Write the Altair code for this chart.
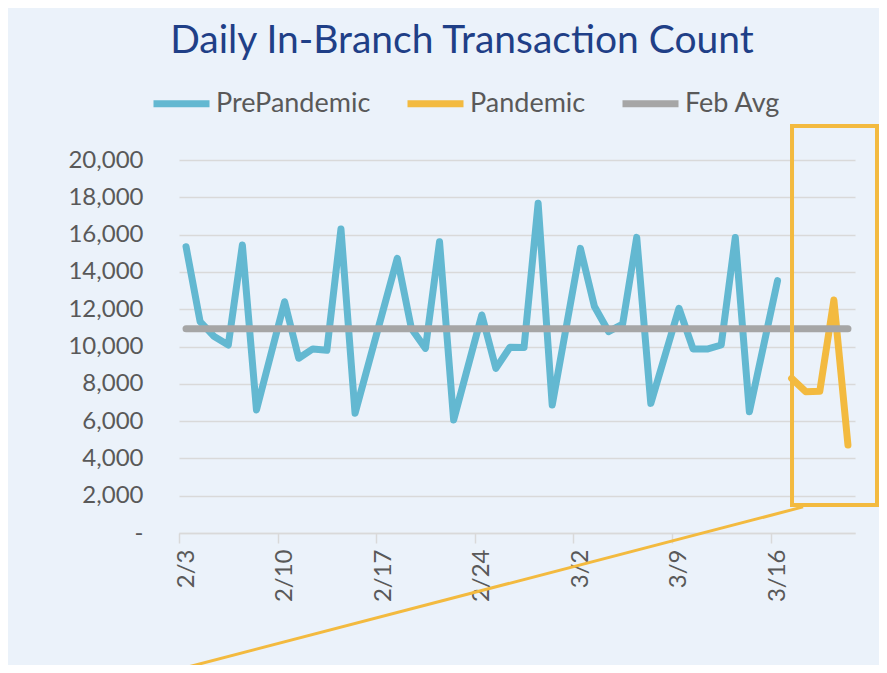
import altair as alt
import pandas as pd

# ---------------- data ----------------
pre_dates = [
    "2020-02-03", "2020-02-04", "2020-02-05", "2020-02-06", "2020-02-07", "2020-02-08",
    "2020-02-10", "2020-02-11", "2020-02-12", "2020-02-13", "2020-02-14", "2020-02-15",
    "2020-02-18", "2020-02-19", "2020-02-20", "2020-02-21", "2020-02-22",
    "2020-02-24", "2020-02-25", "2020-02-26", "2020-02-27", "2020-02-28", "2020-02-29",
    "2020-03-02", "2020-03-03", "2020-03-04", "2020-03-05", "2020-03-06", "2020-03-07",
    "2020-03-09", "2020-03-10", "2020-03-11", "2020-03-12", "2020-03-13", "2020-03-14",
    "2020-03-16",
]
pre_values = [
    15350, 11330, 10530, 10080, 15440, 6600,
    12400, 9370, 9870, 9800, 16300, 6420,
    14730, 10970, 9900, 15620, 6060,
    11690, 8830, 9960, 9950, 17680, 6860,
    15260, 12140, 10800, 11200, 15850, 6950,
    12050, 9870, 9860, 10080, 15850, 6500,
    13530,
]
pandemic_dates = ["2020-03-17", "2020-03-18", "2020-03-19", "2020-03-20", "2020-03-21"]
pandemic_values = [8290, 7580, 7600, 12490, 4720]
feb_avg_value = 10950

series_names = ["PrePandemic", "Pandemic", "Feb Avg"]
series_colors = ["#63B8D1", "#F3BA3F", "#A6A6A6"]
series_widths = [7, 7, 4.5]

y_ticks = list(range(0, 20001, 2000))
x_tick_days = [(2, 3), (2, 10), (2, 17), (2, 24), (3, 2), (3, 9), (3, 16)]

# call-out annotation (orange box + pointer line), in data units
box_start, box_end = "2020-03-17T12:40:00", "2020-03-23T13:30:00"
box_low, box_high = 1500, 21820
pointer_start, pointer_end = "2020-02-02T19:00:00", "2020-03-18T07:30:00"
pointer_low, pointer_high = -7350, 1400

# ---------------- tables ----------------
noon = "T12:00:00"
pre_df = pd.DataFrame({"date": [d + noon for d in pre_dates], "value": pre_values,
                       "series": "PrePandemic"})
pan_df = pd.DataFrame({"date": [d + noon for d in pandemic_dates], "value": pandemic_values,
                       "series": "Pandemic"})
all_dates = pre_dates + pandemic_dates
avg_dates = pd.date_range(all_dates[0], all_dates[-1], freq="D").strftime("%Y-%m-%d")
avg_df = pd.DataFrame({"date": [d + noon for d in avg_dates], "value": feb_avg_value,
                       "series": "Feb Avg"})
box_df = pd.DataFrame({"x": [box_start], "x2": [box_end], "y": [box_low], "y2": [box_high]})
ptr_df = pd.DataFrame({"x": [pointer_start], "x2": [pointer_end],
                       "y": [pointer_low], "y2": [pointer_high]})

FONT = "Lato"
TXT = "#595959"
GRID = "#D9D9D9"
ORANGE = "#F3BA3F"

x_scale = alt.Scale(domain=[alt.DateTime(year=2020, month=2, date=3),
                            alt.DateTime(year=2020, month=3, date=22)], nice=False)
y_scale = alt.Scale(domain=[0, 20000], nice=False)

x_axis = alt.Axis(
    values=[alt.DateTime(year=2020, month=m, date=d) for m, d in x_tick_days],
    format="%-m/%-d", formatType="time", labelAngle=270, labelOffset=7,
    labelFontSize=24, labelColor=TXT, labelFont=FONT, labelPadding=6,
    tickSize=10, tickColor=GRID, tickWidth=1.5, domainColor=GRID, domainWidth=1.5,
    grid=False, title=None,
)
y_axis = alt.Axis(
    values=y_ticks,
    labelExpr="datum.value == 0 ? '-\u2007' : format(datum.value, ',')",
    labelFontSize=24, labelColor=TXT, labelFont=FONT, labelPadding=36, labelOverlap=False,
    ticks=False, domain=False, grid=True, gridColor=GRID, gridWidth=1.5,
    title=None,
)

legend = alt.Legend(
    title=None, orient="none", legendX=-29, legendY=-88,
    direction="horizontal", symbolType="stroke", symbolSize=3136,
    labelFontSize=27, labelColor=TXT, labelFont=FONT,
    labelOffset=3, columnPadding=22,
)
color = alt.Color("series:N", scale=alt.Scale(domain=series_names, range=series_colors),
                  legend=legend)
width_enc = alt.StrokeWidth("series:N",
                            scale=alt.Scale(domain=series_names, range=series_widths),
                            legend=legend)


def series_layer(df):
    return alt.Chart(df).mark_line(strokeCap="round", strokeJoin="round").encode(
        x=alt.X("date:T", scale=x_scale, axis=x_axis),
        y=alt.Y("value:Q", scale=y_scale, axis=y_axis),
        color=color,
        strokeWidth=width_enc,
    )


box = alt.Chart(box_df).mark_rect(fill=None, stroke=ORANGE, strokeWidth=4, clip=False).encode(
    x=alt.X("x:T", scale=x_scale, axis=x_axis), x2="x2:T",
    y=alt.Y("y:Q", scale=y_scale, axis=y_axis), y2="y2:Q")
ptr = alt.Chart(ptr_df).mark_rule(stroke=ORANGE, strokeWidth=3, clip=False).encode(
    x=alt.X("x:T", scale=x_scale, axis=x_axis), x2="x2:T",
    y=alt.Y("y:Q", scale=y_scale, axis=y_axis), y2="y2:Q")

chart = alt.layer(
    series_layer(pre_df), series_layer(pan_df), series_layer(avg_df), ptr, box
).properties(
    width=676, height=373,
    title=alt.Title("Daily In-Branch Transaction Count", font=FONT, fontSize=39,
                    fontWeight="normal", color="#1F3F87", anchor="middle", dx=-55,
                    offset=11),
    autosize=alt.AutoSizeParams(type="none"),
    padding={"left": 171, "top": 152, "right": 24, "bottom": 132},
    background="#EBF2FA",
).configure_view(stroke=None)

chart.save("out.html", embed_options={"renderer": "svg", "actions": False})
